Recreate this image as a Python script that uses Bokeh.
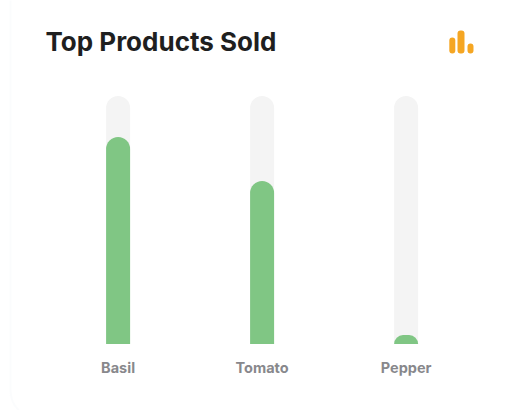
from bokeh.core.properties import value
from bokeh.embed import file_html
from bokeh.models import BoxAnnotation, Label, Range1d
from bokeh.plotting import figure
from bokeh.resources import INLINE

title_text = "Top Products Sold"
products = ["Basil", "Tomato", "Pepper"]
sold = [83.5, 65.7, 3.6]
capacity = [100, 100, 100]
slots = [0, 1, 2]
label_level = [-9.3, -9.3, -9.3]

GREEN = "#80c684"
TRACK = "#f4f4f4"
ORANGE = "#f5a623"
LABEL_GREY = "#88888c"

# The plot area fills the page, so the card, title and glyph can share it with the bars.
p = figure(
    width=507, height=410, output_backend="svg", toolbar_location=None,
    x_range=Range1d(-117.6 / 144, 389.4 / 144),
    y_range=Range1d(-66.5 * 100 / 248, 343.5 * 100 / 248),
    x_axis_location=None, y_axis_location=None,
    min_border=0, border_fill_color="white", background_fill_color="white",
    outline_line_color=None,
)
p.grid.visible = False


def screen_box(left, right, top, bottom, **style):
    """Rounded box placed in page pixels, with y counted from the page's top edge."""
    return BoxAnnotation(
        left=left, right=right, top=410 - top, bottom=410 - bottom,
        left_units="screen", right_units="screen", top_units="screen", bottom_units="screen",
        **style,
    )


# Card outline, with its top and right edges running off the page
p.add_layout(screen_box(10, 540, -30, 418, fill_color="white", fill_alpha=1,
                        line_color="#f3f5f8", line_width=2, border_radius=28, level="underlay"))

bar_width = 24 / 144
p.vbar(x=slots, top=capacity, width=bar_width, fill_color=TRACK, line_color=None,
       border_radius=(12, 12, 0, 0))
p.vbar(x=slots, top=sold, width=bar_width, fill_color=GREEN, line_color=None,
       border_radius=(12, 12, 0, 0))

p.text(x=slots, y=label_level, text=products, text_align="center", text_baseline="middle",
       text_font=value("Inter"), text_font_style="bold", text_font_size="14.5px",
       text_color=LABEL_GREY)

p.add_layout(Label(
    x=45, y=410 - 41, x_units="screen", y_units="screen", text=title_text,
    text_font="Inter", text_font_style="bold", text_font_size="26px",
    text_color="#1f1f1f", text_baseline="alphabetic",
))

# Small three-bar glyph in the card's top-right corner
for left, right, top in [(448.8, 454.8, 37), (457, 464, 30), (467, 473, 43)]:
    p.add_layout(screen_box(left, right, top, 53, fill_color=ORANGE, fill_alpha=1,
                            line_color=None, border_radius=3))

open("out.html", "w").write(file_html(p, INLINE))
